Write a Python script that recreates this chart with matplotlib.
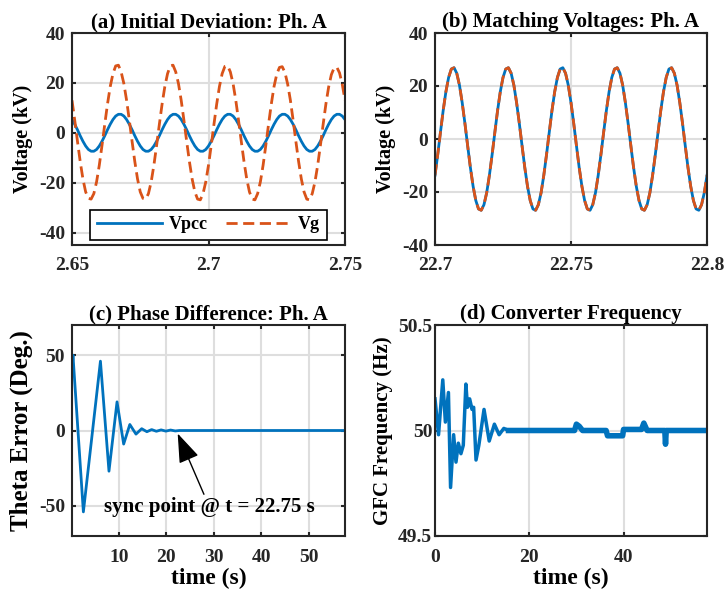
import matplotlib
matplotlib.use("Agg")
import matplotlib.pyplot as plt
from matplotlib.ticker import FormatStrFormatter
import numpy as np

plt.rcParams['font.family'] = ['Liberation Serif', 'DejaVu Serif']
plt.rcParams['font.weight'] = 'bold'
plt.rcParams['axes.unicode_minus'] = False

BLUE = '#0072BD'
ORANGE = '#D95319'

# (a) initial deviation, sampled every 1 ms from 2.65 s to 2.75 s
t_a = np.linspace(2.65, 2.75, 101)
vpcc_a = [
    5.3, 3.4, 1.2, -1.2, -3.4, -5.3, -6.7, -7.4, -7.4, -6.7, -5.3, -3.4, -1.2, 1.2, 3.4, 5.3, 6.7, 7.4, 7.4, 6.7,
    5.3, 3.4, 1.2, -1.2, -3.4, -5.3, -6.7, -7.4, -7.4, -6.7, -5.3, -3.4, -1.2, 1.2, 3.4, 5.3, 6.7, 7.4, 7.4, 6.7,
    5.3, 3.4, 1.2, -1.2, -3.4, -5.3, -6.7, -7.4, -7.4, -6.7, -5.3, -3.4, -1.2, 1.2, 3.4, 5.3, 6.7, 7.4, 7.4, 6.7,
    5.3, 3.4, 1.2, -1.2, -3.4, -5.3, -6.7, -7.4, -7.4, -6.7, -5.3, -3.4, -1.2, 1.2, 3.4, 5.3, 6.7, 7.4, 7.4, 6.7,
    5.3, 3.4, 1.2, -1.2, -3.4, -5.3, -6.7, -7.4, -7.4, -6.7, -5.3, -3.4, -1.2, 1.2, 3.4, 5.3, 6.7, 7.4, 7.4, 6.7,
    5.3]
vg_a = [
    13.0, 5.0, -3.4, -11.5, -18.5, -23.7, -26.3, -26.6, -24.4, -19.7, -13.0, -5.0, 3.4, 11.5, 18.5, 23.7, 26.8, 27.1, 24.4, 19.7,
    13.0, 5.0, -3.4, -11.5, -18.5, -23.7, -26.3, -26.6, -24.4, -19.7, -13.0, -5.0, 3.4, 11.5, 18.5, 23.7, 26.8, 27.1, 24.4, 19.7,
    13.0, 5.0, -3.4, -11.5, -18.5, -23.7, -26.6, -26.9, -24.4, -19.7, -13.0, -5.0, 3.4, 11.5, 18.5, 23.7, 26.6, 26.9, 24.4, 19.7,
    13.0, 5.0, -3.4, -11.5, -18.5, -23.7, -26.6, -26.9, -24.4, -19.7, -13.0, -5.0, 3.4, 11.5, 18.5, 23.5, 26.2, 26.5, 24.2, 19.5,
    13.0, 5.0, -3.4, -11.5, -18.5, -23.7, -26.6, -26.9, -24.4, -19.7, -13.0, -5.0, 3.4, 11.5, 18.3, 23.3, 26.0, 26.3, 24.0, 19.4,
    13.0]

# (b) after sync, sampled every 1 ms from 22.7 s to 22.8 s
t_b = np.linspace(22.7, 22.8, 101)
vpcc_b = [
    -13.7, -5.9, 2.5, 10.7, 17.8, 23.2, 26.4, 26.9, 24.8, 20.3, 13.7, 5.9, -2.5, -10.7, -17.8, -23.2, -26.4, -26.9, -24.8, -20.3,
    -13.7, -5.9, 2.5, 10.7, 17.8, 23.2, 26.4, 26.9, 24.8, 20.3, 13.7, 5.9, -2.5, -10.7, -17.8, -23.2, -26.4, -26.9, -24.8, -20.3,
    -13.7, -5.9, 2.5, 10.7, 17.8, 23.2, 26.4, 26.9, 24.8, 20.3, 13.7, 5.9, -2.5, -10.7, -17.8, -23.2, -26.4, -26.9, -24.8, -20.3,
    -13.7, -5.9, 2.5, 10.7, 17.8, 23.2, 26.4, 26.9, 24.8, 20.3, 13.7, 5.9, -2.5, -10.7, -17.8, -23.2, -26.4, -26.9, -24.8, -20.3,
    -13.7, -5.9, 2.5, 10.7, 17.8, 23.2, 26.4, 26.9, 24.8, 20.3, 13.7, 5.9, -2.5, -10.7, -17.8, -23.2, -26.4, -26.9, -24.8, -20.3,
    -13.7]
vg_b = list(vpcc_b)  # voltages coincide after synchronisation

# (c) phase difference
t_c = [0.1, 0.3, 2.5, 6.1, 7.9, 9.6, 11.0, 12.3, 13.6, 14.8, 15.9, 16.9, 17.9,
       18.9, 19.9, 20.9, 21.9, 22.75, 57.7]
theta_c = [38, 50, -54, 46, -27, 19, -9, 4, -2.4, 1.2, -0.8, 0.6, -0.5,
           0.4, -0.4, 0.3, -0.3, 0, 0]

# (d) converter frequency
t_d = [0, 0.75, 1.65, 2.2, 2.85, 3.3, 3.95, 4.45, 4.95, 5.5, 6.0, 6.55, 6.9,
       7.35, 7.85, 8.2, 8.7, 9.3, 10.4, 11.5, 12.6, 13.6, 14.6, 15.6,
       29.6, 30.0, 30.6, 31.3, 36.3, 36.6, 39.8, 40.0, 43.8, 44.3, 45.0,
       48.75, 48.9, 49.05, 57.7]
f_d = [50.15, 49.98, 50.24, 50.04, 50.18, 49.73, 49.98, 49.85, 49.94, 49.89, 49.93, 50.22, 50.11,
       50.15, 50.10, 50.11, 49.86, 49.93, 50.10, 49.95, 50.03, 49.98, 50.01, 50.0,
       50.0, 50.03, 50.02, 50.0, 50.0, 49.975, 49.975, 50.005, 50.005, 50.035, 50.0,
       50.0, 49.935, 50.0, 50.0]
steady_from = 23  # index where the noisy steady band starts

fig = plt.figure(figsize=(7.25, 5.92), dpi=100)
W, H = 725.0, 592.0


def box(l, t, r, b):
    return [l / W, 1 - b / H, (r - l) / W, (b - t) / H]


def style(ax):
    for s in ax.spines.values():
        s.set_linewidth(1.5)
        s.set_color('#262626')
    ax.tick_params(direction='in', length=3, width=1.5, colors='#262626',
                   top=True, right=True, labelsize=14)
    ax.tick_params(axis='x', pad=9)
    ax.tick_params(axis='y', pad=5)
    ax.grid(True, color='#dedede', lw=1.5)
    ax.set_axisbelow(True)
    ax.xaxis.set_major_formatter(FormatStrFormatter('%g'))
    ax.yaxis.set_major_formatter(FormatStrFormatter('%g'))


ax1 = fig.add_axes(box(72, 33, 345, 245))
ax1.plot(t_a, vpcc_a, color=BLUE, lw=2, label='Vpcc')
ax1.plot(t_a, vg_a, color=ORANGE, lw=2, ls=(0, (4, 2)), label='Vg')
ax1.set_xlim(2.65, 2.75)
ax1.set_ylim(-45, 40)
ax1.set_xticks([2.65, 2.7, 2.75])
ax1.set_yticks([-40, -20, 0, 20, 40])
style(ax1)
ax1.set_title('(a) Initial Deviation: Ph. A', fontsize=15, fontweight='bold', pad=4)
ax1.set_ylabel('Voltage (kV)', fontsize=14.5, fontweight='bold', labelpad=4)
leg = ax1.legend(loc='lower center', ncol=2, fontsize=13, handlelength=3.6,
                 handletextpad=0.4, columnspacing=1.0, borderpad=0.35,
                 borderaxespad=0.3, fancybox=False, edgecolor='black', framealpha=1)
leg.get_frame().set_linewidth(1.2)

ax2 = fig.add_axes(box(435, 33, 707, 245))
ax2.plot(t_b, vpcc_b, color=BLUE, lw=2)
ax2.plot(t_b, vg_b, color=ORANGE, lw=2, ls=(0, (4, 2)))
ax2.set_xlim(22.7, 22.8)
ax2.set_ylim(-40, 40)
ax2.set_xticks([22.7, 22.75, 22.8])
ax2.set_yticks([-40, -20, 0, 20, 40])
style(ax2)
ax2.set_title('(b) Matching Voltages: Ph. A', fontsize=15, fontweight='bold', pad=4)
ax2.set_ylabel('Voltage (kV)', fontsize=14.5, fontweight='bold', labelpad=4)

ax3 = fig.add_axes(box(72, 325, 345, 536))
ax3.plot(t_c, theta_c, color=BLUE, lw=2)
ax3.set_xlim(0.1, 57.7)
ax3.set_ylim(-70, 70)
ax3.set_xticks([10, 20, 30, 40, 50])
ax3.set_yticks([-50, 0, 50])
style(ax3)
ax3.set_title('(c) Phase Difference: Ph. A', fontsize=15, fontweight='bold', pad=4)
ax3.set_ylabel('Theta Error (Deg.)', fontsize=18, fontweight='bold', labelpad=4)
ax3.set_xlabel('time (s)', fontsize=17, fontweight='bold', labelpad=2)
ax3.annotate('sync point @ t = 22.75 s', xy=(22.4, -2), xytext=(29.1, -50.8),
             ha='center', va='center', fontsize=15, fontweight='bold',
             arrowprops=dict(arrowstyle='-|>,head_length=1.4,head_width=0.5',
                             mutation_scale=13, color='black', lw=1,
                             shrinkA=0, shrinkB=0))

ax4 = fig.add_axes(box(435, 325, 707, 536))
ax4.plot(t_d, f_d, color=BLUE, lw=2.5, solid_joinstyle='round')
ax4.plot(t_d[steady_from:], f_d[steady_from:], color=BLUE, lw=4,
         solid_joinstyle='round')
ax4.set_xlim(0, 57.7)
ax4.set_ylim(49.5, 50.5)
ax4.set_xticks([0, 20, 40])
ax4.set_yticks([49.5, 50, 50.5])
style(ax4)
ax4.tick_params(axis='y', pad=2)
ax4.set_title('(d) Converter Frequency', fontsize=15, fontweight='bold', pad=4)
ax4.set_ylabel('GFC Frequency (Hz)', fontsize=15, fontweight='bold', labelpad=4)
ax4.set_xlabel('time (s)', fontsize=17, fontweight='bold', labelpad=2)

fig.savefig('out.png', dpi=100)
